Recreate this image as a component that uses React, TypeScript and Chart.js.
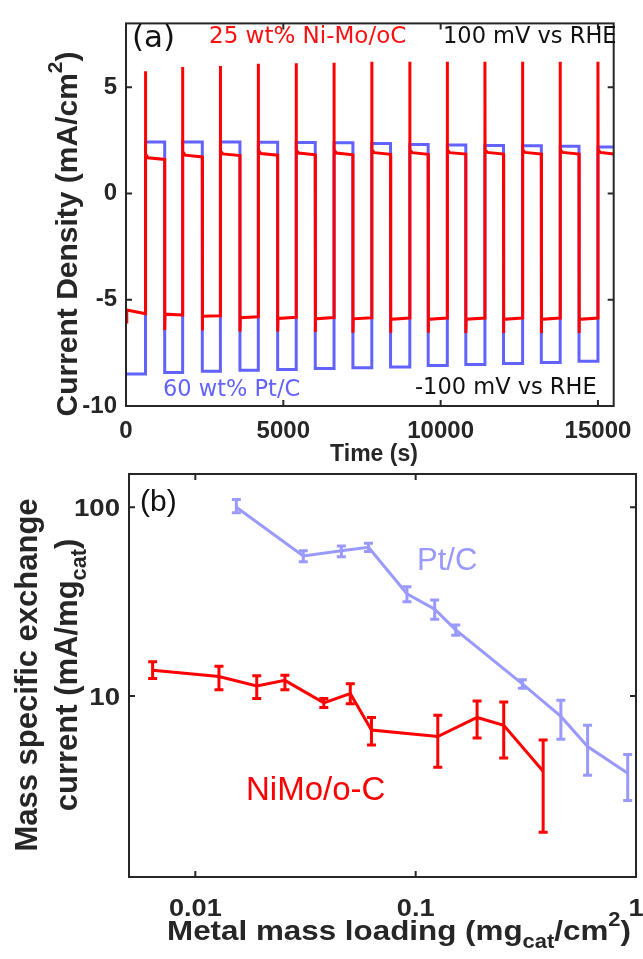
import React, { useEffect, useRef } from "react";
import { Chart, registerables } from "chart.js";

Chart.register(...registerables);

// ---------------- Panel (a): chronoamperometry ----------------
const xTicksA = [0, 5000, 10000, 15000];
const yTicksA = [-10, -5, 0, 5];
const endTime = 15500;
// switching times (s)
const upTimes = [620, 1800, 3000, 4205, 5410, 6612, 7812, 9020, 10212, 11408, 12605, 13800, 15000];
const downTimes = [1230, 2425, 3622, 4820, 6015, 7212, 8408, 9604, 10800, 11998, 13200, 14398];
// Ni-Mo/oC (red)
const redInitial = [-6.05, -5.48, -5.66]; // t = 0, shortly after, before first switch
const redSpikePeak = [5.75, 5.95, 6.0, 6.1, 6.12, 6.15, 6.2, 6.2, 6.2, 6.2, 6.2, 6.2, 6.2];
const redHighStart = [1.85, 1.97, 2.0, 2.02, 2.03, 2.04, 2.05, 2.05, 2.05, 2.05, 2.05, 2.05, 2.05];
const redHighKnee = [1.68, 1.8, 1.86, 1.88, 1.9, 1.9, 1.92, 1.92, 1.92, 1.93, 1.93, 1.93, 1.93];
const redHighEnd = [1.6, 1.72, 1.78, 1.8, 1.82, 1.82, 1.84, 1.84, 1.85, 1.85, 1.85, 1.85, 1.86];
const redLowDip = [-6.42, -6.45, -6.5, -6.5, -6.52, -6.55, -6.55, -6.55, -6.57, -6.57, -6.57, -6.57];
const redLowStart = [-5.68, -5.78, -5.85, -5.88, -5.9, -5.9, -5.92, -5.92, -5.92, -5.92, -5.92, -5.92];
const redLowEnd = [-5.72, -5.75, -5.8, -5.82, -5.84, -5.85, -5.86, -5.86, -5.86, -5.86, -5.86, -5.86];
const redKneeDelay = 80;
const redDipDelay = 12;
// Pt/C (blue)
const blueHigh = [2.42, 2.42, 2.42, 2.41, 2.4, 2.38, 2.35, 2.3, 2.28, 2.26, 2.24, 2.22, 2.19];
const blueLow = [-8.5, -8.42, -8.36, -8.32, -8.28, -8.24, -8.2, -8.16, -8.1, -8.05, -8.0, -7.95, -7.9];

// ---------------- Panel (b): mass specific exchange current ----------------
const xTicksB = [0.01, 0.1, 1];
const xTickLabelsB = ["0.01", "0.1", "1"];
const yTicksB = [10, 100];
const yTickLabelsB = ["10", "100"];
const niLoading = [0.0064, 0.0128, 0.019, 0.0255, 0.0383, 0.0505, 0.063, 0.126, 0.19, 0.251, 0.379];
const niCurrent = [13.7, 12.7, 11.3, 12.1, 9.2, 10.3, 6.6, 6.1, 7.7, 7.0, 4.0];
const niErrHigh = [15.2, 14.4, 12.8, 12.9, 9.7, 11.6, 7.7, 7.9, 9.4, 9.3, 5.85];
const niErrLow = [12.4, 10.8, 9.7, 10.8, 8.7, 9.1, 5.5, 4.2, 6.0, 4.7, 1.9];
const ptLoading = [0.01535, 0.0309, 0.046, 0.0611, 0.0913, 0.122, 0.152, 0.305, 0.456, 0.603, 0.917];
const ptCurrent = [100, 55.2, 58.9, 61.4, 34.8, 28.8, 22.4, 11.6, 7.8, 5.4, 3.9];
const ptErrHigh = [110, 58.9, 62.4, 64.4, 37.9, 32.3, 23.8, 12.2, 9.5, 7.0, 4.9];
const ptErrLow = [93.5, 51.5, 54.7, 58.2, 31.6, 25.5, 21.0, 11.0, 5.9, 3.8, 2.8];

// ---------------- styles ----------------
const SANS = '"Liberation Sans", Arial, Helvetica, sans-serif';
const DEJAVU = '"DejaVu Sans", Verdana, sans-serif';
const AXIS = "#262626";
const RED = "#ff0000";
const BLUE_A = "#6262ff";
const LAV = "#9999ff";

type Seg = { t: string; s?: "sub" | "sup" };

function drawRich(
  ctx: CanvasRenderingContext2D,
  segs: Seg[],
  x: number,
  y: number,
  size: number,
  color: string,
  opts: { align?: "center" | "left" | "right"; rotate?: boolean; weight?: string; family?: string; sx?: number } = {}
) {
  const fam = opts.family ?? SANS;
  const w = opts.weight ?? "bold";
  const fontFor = (s?: string) => `${w} ${s ? size * 0.7 : size}px ${fam}`;
  let total = 0;
  const widths = segs.map((seg) => {
    ctx.font = fontFor(seg.s);
    const m = ctx.measureText(seg.t).width;
    total += m;
    return m;
  });
  ctx.save();
  ctx.translate(x, y);
  if (opts.rotate) ctx.rotate(-Math.PI / 2);
  if (opts.sx) ctx.scale(opts.sx, 1);
  ctx.fillStyle = color;
  ctx.textBaseline = "alphabetic";
  ctx.textAlign = "left";
  let cx = opts.align === "left" ? 0 : opts.align === "right" ? -total : -total / 2;
  segs.forEach((seg, i) => {
    ctx.font = fontFor(seg.s);
    const dy = seg.s === "sub" ? size * 0.3 : seg.s === "sup" ? -size * 0.5 : 0;
    ctx.fillText(seg.t, cx, dy);
    cx += widths[i];
  });
  ctx.restore();
}

function framePlugin(xTicks: number[], yTicks: number[]) {
  return {
    id: "frame",
    afterDatasetsDraw(chart: any) {
      const { ctx, chartArea: a, scales } = chart;
      const len = 6;
      ctx.save();
      ctx.strokeStyle = AXIS;
      ctx.lineWidth = 2;
      ctx.strokeRect(a.left, a.top, a.right - a.left, a.bottom - a.top);
      ctx.beginPath();
      for (const v of xTicks) {
        const px = scales.x.getPixelForValue(v);
        ctx.moveTo(px, a.bottom);
        ctx.lineTo(px, a.bottom - len);
        ctx.moveTo(px, a.top);
        ctx.lineTo(px, a.top + len);
      }
      for (const v of yTicks) {
        const py = scales.y.getPixelForValue(v);
        ctx.moveTo(a.left, py);
        ctx.lineTo(a.left + len, py);
        ctx.moveTo(a.right, py);
        ctx.lineTo(a.right - len, py);
      }
      ctx.stroke();
      ctx.restore();
    },
  };
}

function buildRed() {
  const pts: { x: number; y: number }[] = [
    { x: 0, y: redInitial[0] },
    { x: 25, y: redInitial[1] },
    { x: upTimes[0], y: redInitial[2] },
  ];
  upTimes.forEach((t, k) => {
    pts.push({ x: t, y: redSpikePeak[k] });
    pts.push({ x: t + 4, y: redHighStart[k] });
    pts.push({ x: t + redKneeDelay, y: redHighKnee[k] });
    const end = k < downTimes.length ? downTimes[k] : endTime;
    pts.push({ x: end, y: redHighEnd[k] });
    if (k < downTimes.length) {
      pts.push({ x: end, y: redLowDip[k] });
      pts.push({ x: end + redDipDelay, y: redLowStart[k] });
      pts.push({ x: upTimes[k + 1], y: redLowEnd[k] });
    }
  });
  return pts;
}

function buildBlue() {
  const pts: { x: number; y: number }[] = [{ x: 0, y: blueLow[0] }];
  upTimes.forEach((t, k) => {
    pts.push({ x: t, y: blueLow[k] });
    pts.push({ x: t, y: blueHigh[k] });
    const end = k < downTimes.length ? downTimes[k] : endTime;
    pts.push({ x: end, y: blueHigh[k] });
    if (k < downTimes.length) pts.push({ x: end, y: blueLow[k + 1] });
  });
  return pts;
}

const tickFont = (size: number) => ({ family: SANS, size, weight: "bold" as const });

function ChartA() {
  const ref = useRef<HTMLCanvasElement>(null);
  useEffect(() => {
    const textPlugin = {
      id: "textA",
      afterDraw(chart: any) {
        const ctx = chart.ctx as CanvasRenderingContext2D;
        drawRich(ctx, [{ t: "Current Density (mA/cm" }, { t: "2", s: "sup" }, { t: ")" }], 77, 234, 30, AXIS, { rotate: true });
        drawRich(ctx, [{ t: "Time (s)" }], 374, 461, 23, AXIS);
        drawRich(ctx, [{ t: "(a)" }], 132, 47, 31, "#111", { align: "left", weight: "normal", family: DEJAVU });
        drawRich(ctx, [{ t: "25 wt% Ni-Mo/oC" }], 209, 43, 23, "#ff1010", { align: "left", weight: "normal", family: DEJAVU });
        drawRich(ctx, [{ t: "100 mV vs RHE" }], 443, 43, 22.5, "#111", { align: "left", weight: "normal", family: DEJAVU });
        drawRich(ctx, [{ t: "60 wt% Pt/C" }], 163, 396, 22.5, BLUE_A, { align: "left", weight: "normal", family: DEJAVU });
        drawRich(ctx, [{ t: "-100 mV vs RHE" }], 415, 394, 22.5, "#111", { align: "left", weight: "normal", family: DEJAVU });
      },
    };
    const chart = new Chart(ref.current!, {
      type: "line",
      data: {
        datasets: [
          { data: buildRed(), borderColor: RED, borderWidth: 3, pointRadius: 0, tension: 0, order: 0 },
          { data: buildBlue(), borderColor: BLUE_A, borderWidth: 3, pointRadius: 0, tension: 0, order: 1 },
        ],
      },
      options: {
        animation: false,
        responsive: false,
        layout: { padding: { top: 13, right: 21, left: 0, bottom: 0 } },
        plugins: { legend: { display: false }, tooltip: { enabled: false } },
        scales: {
          x: {
            type: "linear",
            min: 0,
            max: endTime,
            grid: { display: false, drawTicks: false },
            border: { display: false },
            ticks: { font: tickFont(24), color: AXIS, padding: 11, maxRotation: 0, autoSkip: false, callback: (v: any) => String(v) },
            afterBuildTicks: (s: any) => {
              s.ticks = xTicksA.map((v) => ({ value: v }));
            },
            afterFit: (s: any) => {
              s.height = 64;
            },
          },
          y: {
            type: "linear",
            min: -10,
            max: 8,
            grid: { display: false, drawTicks: false },
            border: { display: false },
            ticks: { font: tickFont(24), color: AXIS, padding: 9, callback: (v: any) => String(v) },
            afterBuildTicks: (s: any) => {
              s.ticks = yTicksA.map((v) => ({ value: v }));
            },
            afterFit: (s: any) => {
              s.width = 126;
            },
          },
        },
      },
      plugins: [framePlugin(xTicksA, yTicksA), textPlugin],
    } as any);
    return () => chart.destroy();
  }, []);
  return <canvas ref={ref} width={643} height={470} style={{ position: "absolute", left: 0, top: 0, width: 643, height: 470 }} />;
}

function ChartB() {
  const ref = useRef<HTMLCanvasElement>(null);
  useEffect(() => {
    const errPlugin = {
      id: "errbars",
      afterDatasetsDraw(chart: any) {
        const { ctx, scales } = chart;
        const series = [
          { xs: ptLoading, lo: ptErrLow, hi: ptErrHigh, c: LAV },
          { xs: niLoading, lo: niErrLow, hi: niErrHigh, c: RED },
        ];
        ctx.save();
        ctx.lineWidth = 3;
        ctx.lineCap = "butt";
        for (const s of series) {
          ctx.strokeStyle = s.c;
          ctx.beginPath();
          s.xs.forEach((xv, i) => {
            const px = scales.x.getPixelForValue(xv);
            const pl = scales.y.getPixelForValue(s.lo[i]);
            const ph = scales.y.getPixelForValue(s.hi[i]);
            ctx.moveTo(px, pl);
            ctx.lineTo(px, ph);
            ctx.moveTo(px - 4.5, pl);
            ctx.lineTo(px + 4.5, pl);
            ctx.moveTo(px - 4.5, ph);
            ctx.lineTo(px + 4.5, ph);
          });
          ctx.stroke();
        }
        ctx.restore();
      },
    };
    const textPlugin = {
      id: "textB",
      afterDraw(chart: any) {
        const ctx = chart.ctx as CanvasRenderingContext2D;
        const { scales, chartArea: a } = chart;
        // tick labels
        xTicksB.forEach((v, i) => {
          drawRich(ctx, [{ t: xTickLabelsB[i] }], scales.x.getPixelForValue(v), a.bottom + 39, 23, AXIS, { sx: 1.18 });
        });
        yTicksB.forEach((v, i) => {
          drawRich(ctx, [{ t: yTickLabelsB[i] }], a.left - 9, scales.y.getPixelForValue(v) + 8.5, 23, AXIS, { align: "right", sx: 1.2 });
        });
        drawRich(ctx, [{ t: "Mass specific exchange" }], 37, 215, 31, AXIS, { rotate: true });
        drawRich(ctx, [{ t: "current (mA/mg" }, { t: "cat", s: "sub" }, { t: ")" }], 77, 215, 31, AXIS, { rotate: true });
        drawRich(
          ctx,
          [{ t: "Metal mass loading (mg" }, { t: "cat", s: "sub" }, { t: "/cm" }, { t: "2", s: "sup" }, { t: ")" }],
          399,
          480,
          28,
          AXIS,
          { sx: 1.12 }
        );
        drawRich(ctx, [{ t: "(b)" }], 140, 51, 30, "#111", { align: "left", weight: "normal" });
        drawRich(ctx, [{ t: "Pt/C" }], 417, 110, 31, LAV, { align: "left", weight: "normal" });
        drawRich(ctx, [{ t: "NiMo/o-C" }], 246, 340, 33, RED, { align: "left", weight: "normal" });
      },
    };
    const chart = new Chart(ref.current!, {
      type: "line",
      data: {
        datasets: [
          {
            data: niLoading.map((x, i) => ({ x, y: niCurrent[i] })),
            borderColor: RED,
            borderWidth: 3,
            pointRadius: 0,
            tension: 0,
            order: 0,
          },
          {
            data: ptLoading.map((x, i) => ({ x, y: ptCurrent[i] })),
            borderColor: LAV,
            borderWidth: 3,
            pointRadius: 0,
            tension: 0,
            order: 1,
          },
        ],
      },
      options: {
        animation: false,
        responsive: false,
        layout: { padding: { top: 14, right: 7, left: 0, bottom: 0 } },
        plugins: { legend: { display: false }, tooltip: { enabled: false } },
        scales: {
          x: {
            type: "logarithmic",
            min: 0.005,
            max: 1,
            grid: { display: false, drawTicks: false },
            border: { display: false },
            ticks: { display: false },
            afterBuildTicks: (s: any) => {
              s.ticks = xTicksB.map((v) => ({ value: v }));
            },
            afterFit: (s: any) => {
              s.height = 82;
            },
          },
          y: {
            type: "logarithmic",
            min: 1.1,
            max: 150,
            grid: { display: false, drawTicks: false },
            border: { display: false },
            ticks: { display: false },
            afterBuildTicks: (s: any) => {
              s.ticks = yTicksB.map((v) => ({ value: v }));
            },
            afterFit: (s: any) => {
              s.width = 129;
            },
          },
        },
      },
      plugins: [errPlugin, framePlugin(xTicksB, yTicksB), textPlugin],
    } as any);
    return () => chart.destroy();
  }, []);
  return <canvas ref={ref} width={643} height={499} style={{ position: "absolute", left: 0, top: 460, width: 643, height: 499 }} />;
}

export default function App() {
  return (
    <div style={{ position: "absolute", left: 0, top: 0, width: 643, height: 959, background: "#fff", overflow: "hidden" }}>
      <ChartA />
      <ChartB />
    </div>
  );
}
